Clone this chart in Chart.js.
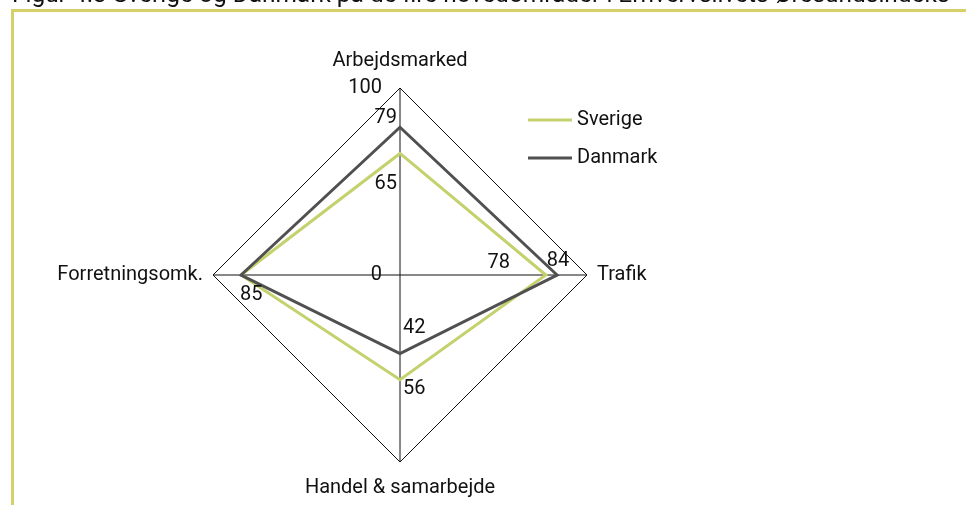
<!DOCTYPE html>
<html>
<head>
<meta charset="utf-8">
<script src="https://cdn.jsdelivr.net/npm/chart.js@4.4.1/dist/chart.umd.min.js"></script>
<style>
    html, body { margin: 0; padding: 0; background: #fff; }
    #wrap { position: relative; width: 966px; height: 505px; overflow: hidden; }
    #frame {
        position: absolute; left: 11px; top: 9px; right: -10px; bottom: -10px;
        border-top: 3px solid #d6d06a; border-left: 3px solid #d6d06a;
    }
    #chart { position: absolute; left: 0; top: 0; }
</style>
</head>
<body>
<div id="wrap">
    <div id="frame"></div>
    <canvas id="chart" width="966" height="505"></canvas>
</div>
<script>
    const titleText = 'Figur 4.3 Sverige og Danmark på de fire hovedområder i Erhvervslivets Øresundsindeks';
    const categories = ['Arbejdsmarked', 'Trafik', 'Handel & samarbejde', 'Forretningsomk.'];
    const seriesNames = ['Sverige', 'Danmark'];
    const sverigeValues = [65, 78, 56, 85];
    const danmarkValues = [79, 84, 42, 85];
    const tickValues = [0, 100];

    const FONT = 'Roboto, "Noto Sans", sans-serif';
    const colors = ['#c4d16c', '#505050'];

    // where each value label sits next to its point (dx, dy, align); null = no label
    const labelPlace = [
        [[-3, 31, 'right'], [-47, -12, 'center'], [3, 9, 'left'], null],
        [[-3, -9, 'right'], [1, -14, 'center'], [3, -26, 'left'], [-1, 20, 'left']]
    ];
    // category label offsets from the outer vertex
    const catPlace = [[0, -27, 'center'], [10, 0, 'left'], [0, 26, 'center'], [-10, 0, 'right']];

    const decorPlugin = {
        id: 'decor',
        afterDraw(chart) {
            const ctx = chart.ctx;
            const r = chart.scales.r;
            ctx.save();
            ctx.fillStyle = '#111';
            ctx.textBaseline = 'middle';
            ctx.font = '20px ' + FONT;

            // category labels
            categories.forEach((cat, i) => {
                const p = r.getPointPosition(i, r.drawingArea);
                const [dx, dy, al] = catPlace[i];
                ctx.textAlign = al;
                ctx.fillText(cat, p.x + dx, p.y + dy);
            });

            // tick labels 0 and 100 on the top axis
            tickValues.forEach(v => {
                const p = r.getPointPosition(0, r.getDistanceFromCenterForValue(v));
                ctx.textAlign = 'right';
                ctx.fillText(String(v), p.x - 18, p.y);
            });

            // value labels
            chart.data.datasets.forEach((ds, d) => {
                const meta = chart.getDatasetMeta(d);
                meta.data.forEach((pt, i) => {
                    const pl = labelPlace[d][i];
                    if (!pl) return;
                    ctx.textAlign = pl[2];
                    ctx.fillText(String(ds.data[i]), pt.x + pl[0], pt.y + pl[1]);
                });
            });

            // legend
            seriesNames.forEach((name, i) => {
                const y = 120 + i * 38;
                ctx.strokeStyle = colors[i];
                ctx.lineWidth = 3;
                ctx.beginPath();
                ctx.moveTo(528, y);
                ctx.lineTo(572, y);
                ctx.stroke();
                ctx.textAlign = 'left';
                ctx.fillText(name, 577, y);
            });

            // title, cut off at the top edge
            ctx.font = '20px ' + FONT;
            const w = ctx.measureText(titleText).width;
            const size = 20 * 938 / w;
            ctx.font = size.toFixed(2) + 'px ' + FONT;
            ctx.textAlign = 'left';
            ctx.textBaseline = 'alphabetic';
            ctx.fillText(titleText, 12, 2);
            ctx.restore();
        }
    };

    new Chart(document.getElementById('chart'), {
        type: 'radar',
        data: {
            labels: categories,
            datasets: [
                {
                    label: seriesNames[0],
                    data: sverigeValues,
                    borderColor: colors[0],
                    borderWidth: 3,
                    fill: false,
                    pointRadius: 0,
                    order: 1
                },
                {
                    label: seriesNames[1],
                    data: danmarkValues,
                    borderColor: colors[1],
                    borderWidth: 3,
                    fill: false,
                    pointRadius: 0,
                    order: 0
                }
            ]
        },
        options: {
            responsive: false,
            animation: false,
            layout: { padding: { left: 213, right: 379, top: 88, bottom: 43 } },
            elements: { line: { tension: 0, borderJoinStyle: 'miter' } },
            plugins: { legend: { display: false }, tooltip: { enabled: false } },
            scales: {
                r: {
                    min: 0,
                    max: 100,
                    ticks: { display: false, stepSize: 100 },
                    grid: { color: '#111', lineWidth: 1 },
                    angleLines: { color: '#111', lineWidth: 1 },
                    pointLabels: { display: false }
                }
            }
        },
        plugins: [decorPlugin]
    });
</script>
</body>
</html>
